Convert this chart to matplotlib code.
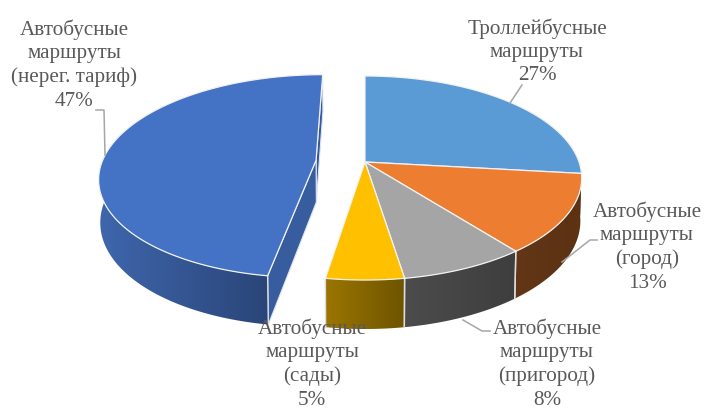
import numpy as np
import matplotlib
matplotlib.use('Agg')
import matplotlib.pyplot as plt
from matplotlib.colors import LinearSegmentedColormap
from matplotlib.patches import Polygon

# Shares (the printed labels are rounded).
names = ['Троллейбусные\nмаршруты\n27%', 'Автобусные\nмаршруты\n(город)\n13%',
         'Автобусные\nмаршруты\n(пригород)\n8%', 'Автобусные\nмаршруты\n(сады)\n5%',
         'Автобусные\nмаршруты\n(нерег. тариф)\n47%']
shares = [26.8, 12.6, 8.1, 5.0, 47.5]
top_colors = ['#5B9BD5', '#ED7D31', '#A5A5A5', '#FFC000', '#4472C4']
explode = [0, 0, 0, 0, 0.23]
wall_left = ['#3c6e9e', '#623616', '#4c4c4c', '#9c7600', '#3f66ac']
wall_right = ['#2f5a85', '#5c3212', '#3e3e3e', '#6e5400', '#2a4578']

label_pos = [(537, 52), (647, 247), (547, 364), (312, 364), (74, 65)]
leaders = [[(510, 103), (522, 85)],
           [(562, 262), (590, 240), (597, 240)],
           [(463, 320), (482, 331), (490, 331)],
           [],
           [(105, 155), (104, 110), (96, 110)]]

CX, CY = 365, 162
RX, RY, H = 214, 99.5, 42.3
K, M = 0.157, 0.006


def project(u, v, z, shift=(0, 0)):
    u = np.asarray(u) + shift[0]
    v = np.asarray(v) + shift[1]
    d = 1 + K * v + M * z
    return CX + RX * u / d, CY + (-RY * v + H * z) / d


fig = plt.figure(figsize=(7.05, 4.08), dpi=100)
ax = fig.add_axes([0, 0, 1, 1])

cum = np.cumsum([0] + shares) / 100 * 2 * np.pi

# Big slice goes first, it sits behind the rest only at its right faces.
for i in [4, 0, 1, 2, 3]:
    t = np.linspace(cum[i], cum[i + 1], 200)
    mid = (cum[i] + cum[i + 1]) / 2
    shift = (explode[i] * np.sin(mid), explode[i] * np.cos(mid))
    u, v = np.sin(t), np.cos(t)

    if explode[i] > 0:
        # Cut faces of the pulled out slice.
        for ang, col in [(cum[i + 1], '#35599c'), (cum[i], '#385d9f')]:
            fu, fv = [0, np.sin(ang)], [0, np.cos(ang)]
            x0, y0 = project(fu, fv, 0, shift)
            x1, y1 = project(fu, fv, 1, shift)
            ax.fill([x0[0], x0[1], x1[1], x1[0]], [y0[0], y0[1], y1[1], y1[0]],
                    color=col, ec='#dfe6f2', lw=0.8, zorder=2)

    # Outer wall, a horizontal gradient clipped to the wall outline.
    # The back part of the outline stays hidden under the top face.
    front = v < 0.5
    x0, y0 = project(u[front], v[front], 0, shift)
    x1, y1 = project(u[front], v[front], 1, shift)
    wall = Polygon(np.c_[np.r_[x0, x1[::-1]], np.r_[y0, y1[::-1]]], closed=True,
                   transform=ax.transData, fc='none', ec='none')
    ax.add_patch(wall)
    xs = np.r_[x0, x1]
    ys = np.r_[y0, y1]
    cmap = LinearSegmentedColormap.from_list('wall', [wall_left[i], wall_right[i]])
    img = ax.imshow(np.linspace(0, 1, 256).reshape(1, -1), cmap=cmap, aspect='auto',
                    extent=(xs.min(), xs.max(), ys.max(), ys.min()), zorder=3)
    img.set_clip_path(wall)

    # Dividing lines on the wall.
    for ang in [cum[i], cum[i + 1]]:
        if np.cos(ang) < -0.3:
            x, y = [], []
            for z in [0, 1]:
                px, py = project(np.sin(ang), np.cos(ang), z, shift)
                x.append(px)
                y.append(py)
            ax.plot(x, y, color='#dddddd', lw=1.0, zorder=4)

    # Top face.
    x, y = project(np.r_[0, u], np.r_[0, v], 0, shift)
    ax.fill(x, y, color=top_colors[i], ec='#f2f2f2', lw=0.9, joinstyle='round', zorder=5)

for line in leaders:
    if line:
        ax.plot([p[0] for p in line], [p[1] for p in line], color='#a6a6a6', lw=1.1, zorder=6)

for name, pos in zip(names, label_pos):
    ax.text(pos[0], pos[1], name, ha='center', va='center', family='Liberation Serif',
            fontsize=15.2, color='#595959', linespacing=1.3, zorder=7)

ax.set_xlim(0, 705)
ax.set_ylim(408, 0)
ax.axis('off')

fig.savefig('out.png', dpi=100)
